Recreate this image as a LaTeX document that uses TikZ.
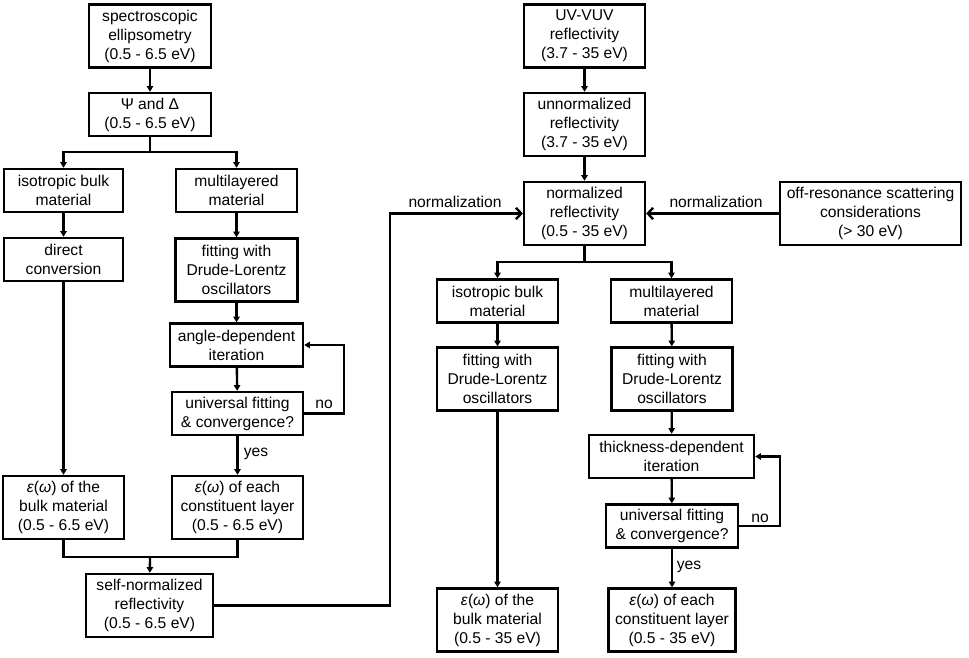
\documentclass[tikz,border=0pt]{standalone}
\usepackage{fontspec}
\setmainfont{Liberation Sans}
\usepackage{tikz}
\usetikzlibrary{arrows.meta}
\tikzset{
  blk/.style={draw, line width=1.35pt, align=center, inner sep=1pt, font=\fontsize{8.9pt}{10.8pt}\selectfont},
  two/.style={minimum height=0.86cm},
  three/.style={minimum height=1.26cm},
  ln/.style={line width=1.35pt},
  arr/.style={line width=1.35pt, -{Triangle[length=3.2pt,width=3.6pt]}},
  barb/.style={line width=1.35pt, -{Straight Barb[length=3pt,width=6.5pt]}},
  lbl/.style={font=\fontsize{8.9pt}{10.8pt}\selectfont, inner sep=1pt}
}
\newcommand{\epsw}{\textit{ε}(\textit{ω})}

\begin{document}
\begin{tikzpicture}[x=0.02cm, y=-0.02cm]
  \useasboundingbox (0,0) rectangle (969,658);

  % ellipsometry branch
  \node[blk, three, minimum width=2.44cm] (spec) at (150,36) {spectroscopic\\ellipsometry\\(0.5 - 6.5 eV)};
  \node[blk, two, minimum width=2.44cm] (psi) at (150,114.5) {Ψ and Δ\\(0.5 - 6.5 eV)};
  \node[blk, two, minimum width=2.38cm] (isoL) at (63.5,190.5) {isotropic bulk\\material};
  \node[blk, two, minimum width=2.42cm] (multL) at (236.5,190.5) {multilayered\\material};
  \node[blk, two, minimum width=2.38cm] (direct) at (63.5,259.5) {direct\\conversion};
  \node[blk, three, minimum width=2.44cm] (fitL) at (236.5,270) {fitting with\\Drude-Lorentz\\oscillators};
  \node[blk, two, minimum width=2.66cm] (angle) at (236.5,345) {angle-dependent\\iteration};
  \node[blk, two, minimum width=2.62cm] (univL) at (237.5,413.5) {universal fitting\\\& convergence?};
  \node[blk, three, minimum width=2.42cm] (epsbL) at (63.5,507.5) {\epsw{} of the\\bulk material\\(0.5 - 6.5 eV)};
  \node[blk, three, minimum width=2.62cm] (epseL) at (237.5,507.5) {\epsw{} of each\\constituent layer\\(0.5 - 6.5 eV)};
  \node[blk, three, minimum width=2.54cm] (selfn) at (149.5,605.5) {self-normalized\\reflectivity\\(0.5 - 6.5 eV)};

  % reflectivity branch
  \node[blk, three, minimum width=2.42cm] (uv) at (584.5,36) {UV-VUV\\reflectivity\\(3.7 - 35 eV)};
  \node[blk, three, minimum width=2.42cm] (unnorm) at (584.5,124.5) {unnormalized\\reflectivity\\(3.7 - 35 eV)};
  \node[blk, three, minimum width=2.42cm] (norm) at (584.5,213.5) {normalized\\reflectivity\\(0.5 - 35 eV)};
  \node[blk, three, minimum width=3.62cm] (offres) at (870.5,213.5) {off-resonance scattering\\considerations\\(> 30 eV)};
  \node[blk, two, minimum width=2.42cm] (isoR) at (497.5,301) {isotropic bulk\\material};
  \node[blk, two, minimum width=2.42cm] (multR) at (671.5,301) {multilayered\\material};
  \node[blk, three, minimum width=2.42cm] (fitR1) at (497.5,379) {fitting with\\Drude-Lorentz\\oscillators};
  \node[blk, three, minimum width=2.42cm] (fitR2) at (672,379) {fitting with\\Drude-Lorentz\\oscillators};
  \node[blk, two, minimum width=3.3cm] (thick) at (671.5,456.5) {thickness-dependent\\iteration};
  \node[blk, two, minimum width=2.64cm] (univR) at (672,526) {universal fitting\\\& convergence?};
  \node[blk, three, minimum width=2.42cm] (epsbR) at (497.5,620) {\epsw{} of the\\bulk material\\(0.5 - 35 eV)};
  \node[blk, three, minimum width=2.54cm] (epseR) at (672,620) {\epsw{} of each\\constituent layer\\(0.5 - 35 eV)};

  \coordinate (splitL) at (150,152);
  \coordinate (mergeL) at (150,557);
  \coordinate (loopL) at (344,345);
  \coordinate (bendN) at (390,605.5);
  \coordinate (splitR) at (584.5,262);
  \coordinate (loopR) at (780,456.5);

  % left connectors
  \draw[arr] (spec) -- (psi);
  \draw[ln] (psi) -- (splitL);
  \draw[arr] (splitL) -| (isoL);
  \draw[arr] (splitL) -| (multL);
  \draw[arr] (isoL) -- (direct);
  \draw[arr] (direct) -- (epsbL);
  \draw[arr] (multL) -- (fitL);
  \draw[arr] (fitL) -- (angle);
  \draw[arr] (angle) -- (univL);
  \draw[arr] (univL) -- (epseL);
  \draw[arr] (univL.east) -| (loopL) -- (angle.east);
  \node[lbl] (noL) at (324,404) {no};
  \node[lbl] (yesL) at (256,454) {yes};
  \draw[ln] (epsbL) |- (mergeL);
  \draw[ln] (epseL) |- (mergeL);
  \draw[arr] (mergeL) -- (selfn);
  \draw[barb] (selfn.east) -- (bendN) |- (norm.west);
  \node[lbl] (normL) at (455,202) {normalization};

  % right connectors
  \draw[arr] (uv) -- (unnorm);
  \draw[arr] (unnorm) -- (norm);
  \draw[barb] (offres) -- (norm);
  \node[lbl] (normR) at (716,202) {normalization};
  \draw[ln] (norm) -- (splitR);
  \draw[arr] (splitR) -| (isoR);
  \draw[arr] (splitR) -| (multR);
  \draw[arr] (isoR) -- (fitR1);
  \draw[arr] (fitR1) -- (epsbR);
  \draw[arr] (multR) -- (fitR2);
  \draw[arr] (fitR2) -- (thick);
  \draw[arr] (thick) -- (univR);
  \draw[arr] (univR) -- (epseR);
  \draw[arr] (univR.east) -| (loopR) -- (thick.east);
  \node[lbl] (noR) at (760,518) {no};
  \node[lbl] (yesR) at (689,567) {yes};
\end{tikzpicture}
\end{document}
